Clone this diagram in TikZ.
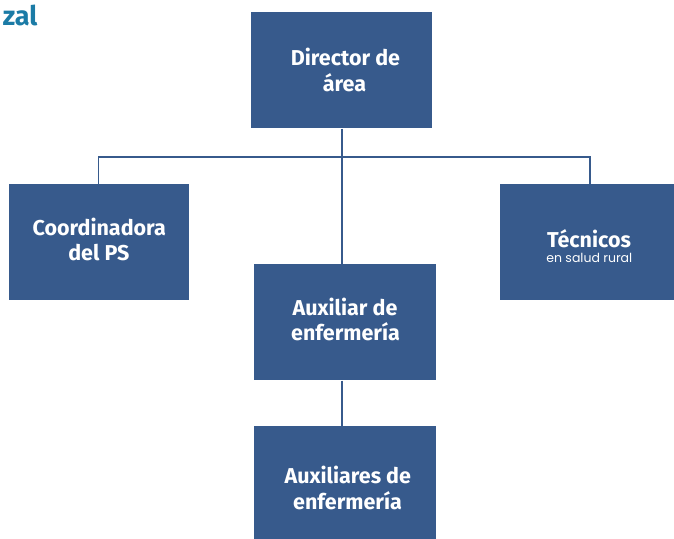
\documentclass[tikz,border=0pt]{standalone}
\usepackage{fontspec}
\setmainfont{Fira Sans}
\newfontfamily\lightfont{Poppins}
\definecolor{boxblue}{HTML}{375A8C}
\definecolor{titleblue}{HTML}{1B7BA6}
\begin{document}
\begin{tikzpicture}[x=1pt,y=-1pt,
  orgbox/.style={fill=boxblue, draw=none, inner sep=0pt, minimum width=181pt, minimum height=116.5pt},
  boxtext/.style={anchor=base, inner sep=0pt, text=white, font=\bfseries\fontsize{21.5}{26}\selectfont},
  subtext/.style={anchor=base, inner sep=0pt, text=white, font=\lightfont\fontsize{12.5}{15}\selectfont},
  link/.style={draw=boxblue, line width=1.8pt}]
\useasboundingbox (0,0) rectangle (674,538);
% boxes
\node[orgbox] (dir) at (341.5,70.2) {};
\node[orgbox, minimum width=180pt] (coord) at (99.3,242.2) {};
\node[orgbox] (tec) at (590.5,242.2) {};
\node[orgbox, minimum width=182.5pt] (aux) at (345.2,322.2) {};
\node[orgbox, minimum width=182.5pt] (low) at (345.2,484.2) {};
% connectors
\coordinate (bus) at (341.7,156.7);
\draw[link] (coord.north -| 98.5,0) |- (bus) -| (tec.north -| 590,0);
\draw[link] (dir.south -| bus) -- (aux.north -| bus);
\draw[link] (aux.south -| bus) -- (low.north -| bus);
% texts
\node[boxtext] (t1) at (345.5,65) {Director de};
\node[boxtext] (t2) at (344.5,91.7) {área};
\node[boxtext] (t3) at (99.2,235) {Coordinadora};
\node[boxtext] (t4) at (98.8,260.7) {del PS};
\node[boxtext] (t5) at (589,247.3) {Técnicos};
\node[subtext] (t6) at (589.3,262.7) {en salud rural};
\node[boxtext] (t7) at (345,315) {Auxiliar de};
\node[boxtext] (t8) at (345.5,340.7) {enfermería};
\node[boxtext] (t9) at (347.8,483.3) {Auxiliares de};
\node[boxtext] (t10) at (347.5,509.3) {enfermería};
\node[anchor=base east, inner sep=0pt, text=titleblue, font=\bfseries\fontsize{27}{30}\selectfont] (title) at (37.5,25) {zal};
\end{tikzpicture}
\end{document}
